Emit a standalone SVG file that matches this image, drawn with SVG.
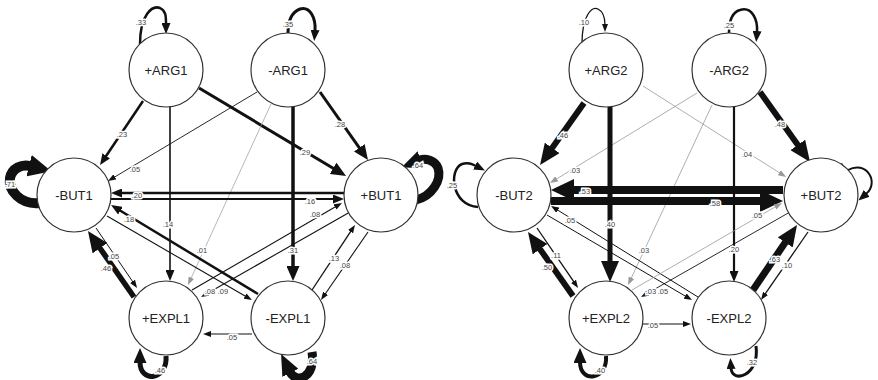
<svg xmlns="http://www.w3.org/2000/svg" width="878" height="380" viewBox="0 0 878 380">
<style>
.n circle{fill:#fff;stroke:#333;stroke-width:1.2}
.n text{font-family:"Liberation Sans",Arial,sans-serif;font-size:13px;fill:#222;text-anchor:middle;dominant-baseline:central}
.e path,.e line{fill:none;stroke:#111}
.g{stroke:#999 !important}
.l text{font-family:"Liberation Sans",Arial,sans-serif;font-size:7.5px;fill:#444;text-anchor:middle;dominant-baseline:central;paint-order:stroke;stroke:#fff;stroke-width:3px}
</style>
<defs>
<marker id="a1" markerUnits="userSpaceOnUse" markerWidth="8" markerHeight="6" refX="1" refY="3" orient="auto"><path d="M0,0L8,3L0,6z" fill="#111"/></marker>
<marker id="a1g" markerUnits="userSpaceOnUse" markerWidth="8" markerHeight="6" refX="1" refY="3" orient="auto"><path d="M0,0L8,3L0,6z" fill="#999"/></marker>
<marker id="a2" markerUnits="userSpaceOnUse" markerWidth="11" markerHeight="9" refX="1" refY="4.5" orient="auto"><path d="M0,0L11,4.5L0,9z" fill="#111"/></marker>
<marker id="a3" markerUnits="userSpaceOnUse" markerWidth="15" markerHeight="13" refX="1" refY="6.5" orient="auto"><path d="M0,0L15,6.5L0,13z" fill="#111"/></marker>
<marker id="a4" markerUnits="userSpaceOnUse" markerWidth="21" markerHeight="18" refX="1" refY="9" orient="auto"><path d="M0,0L21,9L0,18z" fill="#111"/></marker>
<marker id="a5" markerUnits="userSpaceOnUse" markerWidth="23" markerHeight="22" refX="1" refY="11" orient="auto"><path d="M0,0L23,11L0,22z" fill="#111"/></marker>
</defs>
<g id="connectors" class="e">
<!-- left graph -->
<line x1="143" y1="101" x2="105.6" y2="156.7" stroke-width="2.5" marker-end="url(#a2)"/>
<line x1="257" y1="92" x2="114" y2="177.4" stroke-width="0.9" marker-end="url(#a1)"/>
<line x1="170" y1="107" x2="170" y2="271" stroke-width="1.6" marker-end="url(#a2)"/>
<line x1="199" y1="88" x2="334" y2="168.8" stroke-width="3" marker-end="url(#a3)"/>
<line x1="320" y1="92" x2="359.9" y2="148.6" stroke-width="3" marker-end="url(#a3)"/>
<line x1="293" y1="107" x2="293" y2="267" stroke-width="3.5" marker-end="url(#a3)"/>
<line class="g" x1="271" y1="104" x2="190.9" y2="278.6" stroke-width="0.7" marker-end="url(#a1g)"/>
<line x1="344" y1="193" x2="121" y2="193" stroke-width="2.5" marker-end="url(#a2)"/>
<line x1="111" y1="199" x2="334" y2="199" stroke-width="2" marker-end="url(#a2)"/>
<line x1="258" y1="294" x2="119.6" y2="210.2" stroke-width="2.5" marker-end="url(#a2)"/>
<line x1="107" y1="216" x2="245.9" y2="296.5" stroke-width="1.1" marker-end="url(#a1)"/>
<line x1="192" y1="290" x2="335.9" y2="206.5" stroke-width="1.1" marker-end="url(#a1)"/>
<line x1="350" y1="212" x2="207.1" y2="293.5" stroke-width="1.1" marker-end="url(#a1)"/>
<line x1="312" y1="290" x2="351.1" y2="230.8" stroke-width="1.3" marker-end="url(#a1)"/>
<line x1="368" y1="232" x2="325" y2="294.2" stroke-width="1.1" marker-end="url(#a1)"/>
<line x1="252" y1="334" x2="210" y2="334" stroke-width="1.1" marker-end="url(#a1)"/>
<line x1="134" y1="297" x2="99.4" y2="247.4" stroke-width="5.5" marker-end="url(#a4)"/>
<line x1="96" y1="228" x2="133.1" y2="282.2" stroke-width="1" marker-end="url(#a1)"/>
<path d="M140,44 C140,15 152,5 160,8 C166,11 166,16 166,24" stroke-width="2.5" marker-end="url(#a2)"/>
<path d="M288,33 C288,20 292,12 300,9 C310,6 316,18 315,31" stroke-width="3" marker-end="url(#a2)"/>
<path d="M40,203 C20,205 8,190 10,178 C12,168 22,164 30,166" stroke-width="10" marker-end="url(#a5)"/>
<path d="M416,200 C432,196 442,180 438,168 C435,160 425,158 420,160" stroke-width="9" marker-end="url(#a4)"/>
<path d="M312,352 C316,378 296,384 290,372" stroke-width="9" marker-end="url(#a4)"/>
<path d="M166,356 C168,380 140,384 140,362" stroke-width="5" marker-end="url(#a3)"/>
<!-- right graph -->
<line x1="584" y1="103" x2="551.6" y2="148.7" stroke-width="6" marker-end="url(#a4)"/>
<line class="g" x1="697" y1="93" x2="556" y2="179.3" stroke-width="0.8" marker-end="url(#a1g)"/>
<line x1="610" y1="107" x2="610" y2="262" stroke-width="5" marker-end="url(#a4)"/>
<line class="g" x1="643" y1="86" x2="780.1" y2="173.2" stroke-width="0.8" marker-end="url(#a1g)"/>
<line x1="760" y1="92" x2="798.4" y2="145.7" stroke-width="6" marker-end="url(#a4)"/>
<line x1="734" y1="107" x2="734" y2="272" stroke-width="2.2" marker-end="url(#a2)"/>
<line class="g" x1="712" y1="105" x2="631" y2="278.7" stroke-width="0.8" marker-end="url(#a1g)"/>
<line x1="783" y1="190" x2="573" y2="190" stroke-width="8" marker-end="url(#a5)"/>
<line x1="551" y1="201" x2="761" y2="201" stroke-width="8" marker-end="url(#a5)"/>
<line x1="698" y1="297" x2="557" y2="209.7" stroke-width="1" marker-end="url(#a1)"/>
<line x1="547" y1="215" x2="686" y2="296.5" stroke-width="1" marker-end="url(#a1)"/>
<line class="g" x1="632" y1="290" x2="775.9" y2="206.5" stroke-width="0.8" marker-end="url(#a1g)"/>
<line x1="790" y1="212" x2="647.1" y2="293.5" stroke-width="0.9" marker-end="url(#a1)"/>
<line x1="753" y1="290" x2="785.8" y2="241.6" stroke-width="7" marker-end="url(#a4)"/>
<line x1="808" y1="232" x2="765" y2="294.2" stroke-width="1.3" marker-end="url(#a1)"/>
<line x1="643" y1="324" x2="684" y2="324" stroke-width="1.2" marker-end="url(#a1)"/>
<line x1="573" y1="296" x2="539.5" y2="248.4" stroke-width="6" marker-end="url(#a4)"/>
<line x1="537" y1="228" x2="574.1" y2="282.2" stroke-width="1.3" marker-end="url(#a1)"/>
<path d="M582,44 C582,15 592,6 598,9 C604,12 605,18 605,25" stroke-width="1.3" marker-end="url(#a1)"/>
<path d="M729,33 C729,20 733,12 740,10 C752,6 758,20 757,32" stroke-width="2.5" marker-end="url(#a2)"/>
<path d="M478,207 C452,206 448,170 462,164 C468,162 472,164 476,166" stroke-width="2.5" marker-end="url(#a2)"/>
<path d="M848,170 C866,160 880,182 866,194" stroke-width="2" marker-end="url(#a2)"/>
<path d="M606,356 C608,380 580,384 580,362" stroke-width="4" marker-end="url(#a3)"/>
<path d="M756,346 C760,376 732,384 731,368" stroke-width="3" marker-end="url(#a2)"/>
<g class="l">
<text x="141" y="22">.33</text><text x="288" y="24">.35</text><text x="122" y="134">.23</text><text x="135" y="169">.05</text>
<text x="305" y="152">.29</text><text x="340" y="124">.28</text><text x="418" y="165">.64</text><text x="10" y="184">.71</text>
<text x="137" y="195">.20</text><text x="310" y="201">.16</text><text x="129" y="219">.18</text><text x="168" y="224">.14</text>
<text x="202" y="250">.01</text><text x="293" y="250">.31</text><text x="315" y="214">.08</text><text x="210" y="291">.08</text>
<text x="223" y="291">.09</text><text x="334" y="258">.13</text><text x="345" y="265">.08</text><text x="114" y="256">.05</text>
<text x="106" y="268">.46</text><text x="232" y="337">.05</text><text x="160" y="370">.46</text><text x="312" y="361">.64</text>
<text x="584" y="22">.10</text><text x="729" y="25">.25</text><text x="563" y="135">.46</text><text x="575" y="170">.03</text>
<text x="747" y="154">.04</text><text x="780" y="124">.48</text><text x="452" y="185">.25</text><text x="838" y="165">.33</text>
<text x="585" y="191">.53</text><text x="715" y="203">.58</text><text x="570" y="220">.05</text><text x="610" y="224">.40</text>
<text x="644" y="250">.03</text><text x="734" y="249">.20</text><text x="757" y="215">.05</text><text x="651" y="291">.03</text>
<text x="663" y="291">.05</text><text x="775" y="259">.63</text><text x="787" y="265">.10</text><text x="556" y="255">.11</text>
<text x="547" y="267">.50</text><text x="653" y="325">.05</text><text x="600" y="370">.40</text><text x="752" y="362">.32</text>
</g>
</g>
<g id="pARG1" class="n"><circle cx="166" cy="70" r="37"/><text x="166" y="70">+ARG1</text></g>
<g id="mARG1" class="n"><circle cx="288" cy="70" r="37"/><text x="288" y="70">-ARG1</text></g>
<g id="mBUT1" class="n"><circle cx="74" cy="195" r="37"/><text x="74" y="195">-BUT1</text></g>
<g id="pBUT1" class="n"><circle cx="381" cy="195" r="37"/><text x="381" y="195">+BUT1</text></g>
<g id="pEXPL1" class="n"><circle cx="166" cy="318" r="37"/><text x="166" y="318">+EXPL1</text></g>
<g id="mEXPL1" class="n"><circle cx="288" cy="318" r="37"/><text x="288" y="318">-EXPL1</text></g>
<g id="pARG2" class="n"><circle cx="606" cy="70" r="37"/><text x="606" y="70">+ARG2</text></g>
<g id="mARG2" class="n"><circle cx="729" cy="70" r="37"/><text x="729" y="70">-ARG2</text></g>
<g id="mBUT2" class="n"><circle cx="514" cy="195" r="37"/><text x="514" y="195">-BUT2</text></g>
<g id="pBUT2" class="n"><circle cx="821" cy="195" r="37"/><text x="821" y="195">+BUT2</text></g>
<g id="pEXPL2" class="n"><circle cx="606" cy="318" r="37"/><text x="606" y="318">+EXPL2</text></g>
<g id="mEXPL2" class="n"><circle cx="729" cy="318" r="37"/><text x="729" y="318">-EXPL2</text></g>
</svg>
